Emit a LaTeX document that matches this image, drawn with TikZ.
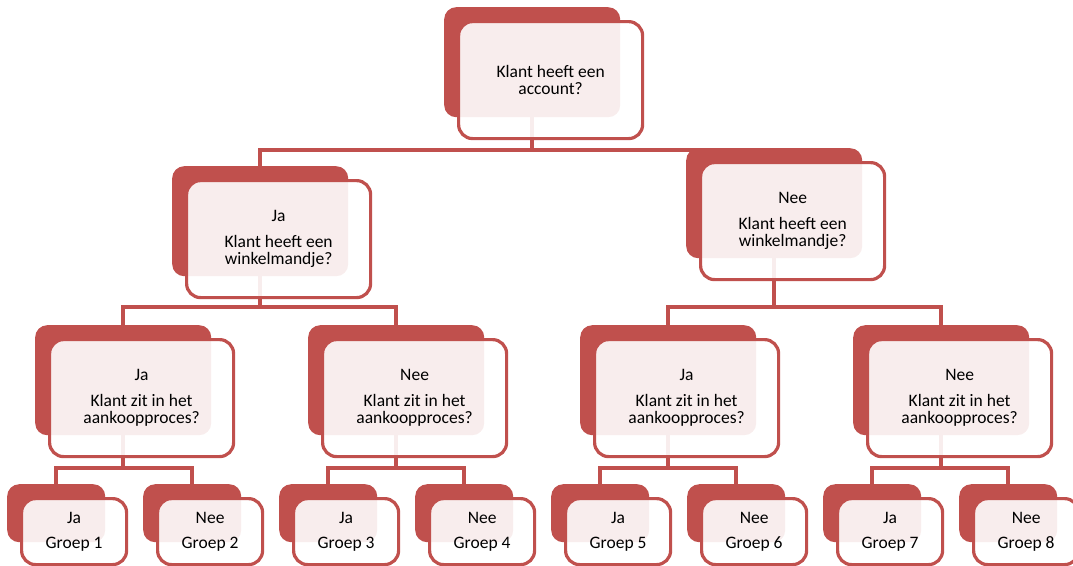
\documentclass[tikz,border=0pt]{standalone}
\usepackage{fontspec}
\setmainfont{Carlito}
\usetikzlibrary{backgrounds}
\definecolor{rood}{RGB}{192,80,77}
\begin{document}
\begin{tikzpicture}[x=1pt,y=-1pt]
\tikzset{
    lijn/.style={draw=rood, line width=3.6pt},
    achter/.style={rectangle, rounded corners=12pt, fill=rood, anchor=north west, inner sep=0pt},
    voor/.style={rectangle, rounded corners=14pt, draw=rood, line width=3.2pt,
                 fill=white, fill opacity=0.9, text opacity=1, anchor=north west,
                 inner sep=0pt, align=center, font=\fontsize{17.5}{17}\selectfont},
    groot/.style={minimum width=176pt, minimum height=110pt},
    grootV/.style={minimum width=184pt, minimum height=117pt},
    klein/.style={minimum width=98pt, minimum height=58pt},
    kleinV/.style={minimum width=105pt, minimum height=66pt}
}
\useasboundingbox (0,0) rectangle (1073,565);

% Vraag 1
\node[achter, groot] (k0) at (444,7) {};
\node[voor, grootV]  (k0t) at (457,20) {Klant heeft een\\account?};

% Vraag 2
\node[achter, groot] (k1) at (172,166) {};
\node[voor, grootV]  (k1t) at (185,179) {Ja\\[9pt]Klant heeft een\\winkelmandje?};
\node[achter, groot] (k2) at (686,148) {};
\node[voor, grootV]  (k2t) at (699,161) {Nee\\[9pt]Klant heeft een\\winkelmandje?};

% Vraag 3
\node[achter, groot] (k11) at (35,325) {};
\node[voor, grootV]  (k11t) at (48,338) {Ja\\[9pt]Klant zit in het\\aankoopproces?};
\node[achter, groot] (k12) at (308,325) {};
\node[voor, grootV]  (k12t) at (321,338) {Nee\\[9pt]Klant zit in het\\aankoopproces?};
\node[achter, groot] (k21) at (580,325) {};
\node[voor, grootV]  (k21t) at (593,338) {Ja\\[9pt]Klant zit in het\\aankoopproces?};
\node[achter, groot] (k22) at (853,325) {};
\node[voor, grootV]  (k22t) at (866,338) {Nee\\[9pt]Klant zit in het\\aankoopproces?};

% Groepen
\node[achter, klein] (g1) at (7,484) {};
\node[voor, kleinV]  (g1t) at (20,497) {Ja\\[8pt]Groep 1};
\node[achter, klein] (g2) at (143,484) {};
\node[voor, kleinV]  (g2t) at (156,497) {Nee\\[8pt]Groep 2};
\node[achter, klein] (g3) at (279,484) {};
\node[voor, kleinV]  (g3t) at (292,497) {Ja\\[8pt]Groep 3};
\node[achter, klein] (g4) at (415,484) {};
\node[voor, kleinV]  (g4t) at (428,497) {Nee\\[8pt]Groep 4};
\node[achter, klein] (g5) at (551,484) {};
\node[voor, kleinV]  (g5t) at (564,497) {Ja\\[8pt]Groep 5};
\node[achter, klein] (g6) at (687,484) {};
\node[voor, kleinV]  (g6t) at (700,497) {Nee\\[8pt]Groep 6};
\node[achter, klein] (g7) at (823,484) {};
\node[voor, kleinV]  (g7t) at (836,497) {Ja\\[8pt]Groep 7};
\node[achter, klein] (g8) at (959,484) {};
\node[voor, kleinV]  (g8t) at (972,497) {Nee\\[8pt]Groep 8};

% Verbindingen
\coordinate (bus0) at (0,150);
\coordinate (bus1) at (0,307);
\coordinate (bus2) at (0,468);
\begin{scope}[on background layer]
\draw[lijn] (k0.center) -- (k0 |- bus0) -| (k1.center);
\draw[lijn] (k0.center) -- (k0 |- bus0) -| (k2.center);
\draw[lijn] (k1.center) -- (k1 |- bus1) -| (k11.center);
\draw[lijn] (k1.center) -- (k1 |- bus1) -| (k12.center);
\draw[lijn] (k2.center) -- (k2 |- bus1) -| (k21.center);
\draw[lijn] (k2.center) -- (k2 |- bus1) -| (k22.center);
\draw[lijn] (k11.center) -- (k11 |- bus2) -| (g1.center);
\draw[lijn] (k11.center) -- (k11 |- bus2) -| (g2.center);
\draw[lijn] (k12.center) -- (k12 |- bus2) -| (g3.center);
\draw[lijn] (k12.center) -- (k12 |- bus2) -| (g4.center);
\draw[lijn] (k21.center) -- (k21 |- bus2) -| (g5.center);
\draw[lijn] (k21.center) -- (k21 |- bus2) -| (g6.center);
\draw[lijn] (k22.center) -- (k22 |- bus2) -| (g7.center);
\draw[lijn] (k22.center) -- (k22 |- bus2) -| (g8.center);
\end{scope}
\end{tikzpicture}
\end{document}
